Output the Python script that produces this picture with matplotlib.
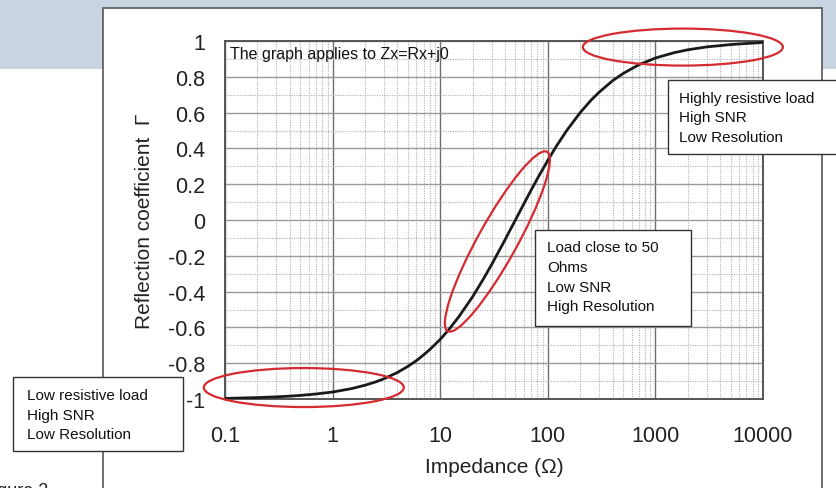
import matplotlib
matplotlib.use("Agg")
import matplotlib.pyplot as plt
from matplotlib.patches import Rectangle, Ellipse
from matplotlib.transforms import IdentityTransform
from matplotlib.ticker import LogLocator, FixedLocator, NullFormatter

# ---- data ----
impedance = [0.1, 0.15, 0.2, 0.3, 0.4, 0.5, 0.7, 1, 1.5, 2, 2.5, 3, 4, 5, 6, 7, 8,
             10, 12, 15, 20, 25, 30, 40, 50, 60, 70, 80, 100, 120, 150, 200, 250,
             300, 400, 500, 700, 1000, 1500, 2000, 3000, 5000, 7000, 10000]
gamma = [-0.997, -0.994, -0.992, -0.988, -0.984, -0.980, -0.972, -0.961, -0.942,
         -0.923, -0.905, -0.887, -0.852, -0.818, -0.786, -0.754, -0.724, -0.667,
         -0.613, -0.538, -0.429, -0.333, -0.250, -0.111, 0.0, 0.091, 0.167, 0.231,
         0.333, 0.412, 0.500, 0.600, 0.667, 0.714, 0.778, 0.818, 0.867, 0.905,
         0.935, 0.951, 0.967, 0.980, 0.986, 0.992]
x_ticks = [0.1, 1, 10, 100, 1000, 10000]
x_tick_labels = ["0.1", "1", "10", "100", "1000", "10000"]
y_ticks = [-1, -0.8, -0.6, -0.4, -0.2, 0, 0.2, 0.4, 0.6, 0.8, 1]
y_tick_labels = ["-1", "-0.8", "-0.6", "-0.4", "-0.2", "0", "0.2", "0.4", "0.6", "0.8", "1"]

note_top = "The graph applies to Zx=Rx+j0"
box_high = ["Highly resistive load", "High SNR", "Low Resolution"]
box_mid = ["Load close to 50", "Ohms", "Low SNR", "High Resolution"]
box_low = ["Low resistive load", "High SNR", "Low Resolution"]

W, H = 836, 489
plt.rcParams['font.family'] = ['Liberation Sans', 'DejaVu Sans']
fig = plt.figure(figsize=(W / 100, H / 100), dpi=100)
fig.patch.set_facecolor("white")

def fx(px):
    return px / W

def fy(py):
    return 1 - py / H

# background band and white panel
fig.add_artist(Rectangle((0, fy(70)), 1, 70 / H, transform=fig.transFigure,
                         facecolor="#c8d4e2", edgecolor="none", zorder=0))
fig.add_artist(Rectangle((fx(103), fy(495)), (822 - 103) / W, (495 - 9) / H,
                         transform=fig.transFigure, facecolor="white",
                         edgecolor="#555555", linewidth=1.2, zorder=0.5))

ax = fig.add_axes([fx(225), fy(400), (763 - 225) / W, (400 - 42) / H])
ax.set_zorder(1)
ax.plot(impedance, gamma, color="#1a1a1a", linewidth=2.0, zorder=5,
        solid_capstyle="round", solid_joinstyle="round")
ax.set_xscale("log")
ax.set_xlim(0.1, 10000)
ax.set_ylim(-1, 1)

ax.xaxis.set_major_locator(FixedLocator(x_ticks))
ax.set_xticklabels(x_tick_labels)
ax.xaxis.set_minor_locator(LogLocator(base=10, subs=range(2, 10)))
ax.xaxis.set_minor_formatter(NullFormatter())
ax.set_yticks(y_ticks)
ax.set_yticklabels(y_tick_labels)
ax.yaxis.set_minor_locator(FixedLocator([v / 10 for v in range(-9, 10, 2)]))

ax.tick_params(axis="both", which="both", length=0)
ax.tick_params(axis="x", which="major", labelsize=15.5, pad=19, colors="#222222")
ax.tick_params(axis="y", which="major", labelsize=15.5, pad=14, colors="#222222")

ax.grid(True, which="major", axis="x", color="#6e6e6e", linewidth=1.0)
ax.grid(True, which="major", axis="y", color="#9a9a9a", linewidth=1.0)
ax.grid(True, which="minor", axis="both", color="#b0b0b0", linewidth=0.8,
        linestyle=(0, (1, 1.2)))
ax.set_axisbelow(True)
for s in ax.spines.values():
    s.set_color("#555555")
    s.set_linewidth(1.4)

ax.set_xlabel("Impedance (\u03a9)", fontsize=15, color="#222222", labelpad=8)
ax.set_ylabel("Reflection coefficient  \u0393", fontsize=15, color="#222222", labelpad=10)

ax.text(0.010, 0.985, note_top, transform=ax.transAxes, fontsize=11.5,
        ha="left", va="top", color="#111111", zorder=6)

fig.canvas.draw()

# red ellipses (centres in data coordinates, sizes in pixels)
ellipses = [((1800, 0.966), 200, 37, 0), ((34, -0.12), 205, 39, 61),
            ((0.54, -0.936), 200, 39, 0)]
for (cx, cy), w, h, ang in ellipses:
    dx, dy = ax.transData.transform((cx, cy))
    fig.add_artist(Ellipse((dx, dy), w, h, angle=ang, transform=IdentityTransform(),
                           facecolor="none", edgecolor="#d42a30", linewidth=1.6,
                           zorder=10))

# annotation boxes (pixel positions)
def note(lines, x0, y0, x1, y1, tx, base, pitch):
    fig.add_artist(Rectangle((fx(x0), fy(y1)), (x1 - x0) / W, (y1 - y0) / H,
                             transform=fig.transFigure, facecolor="white",
                             edgecolor="#333333", linewidth=1.0, zorder=11))
    for i, line in enumerate(lines):
        fig.text(fx(tx), fy(base + i * pitch), line, fontsize=11, ha="left",
                 va="baseline", color="#111111", zorder=12)

note(box_high, 668, 81, 840, 155, 679, 103.5, 19)
note(box_mid, 535, 231, 691, 327, 547, 252.5, 19.5)
note(box_low, 13, 378, 183, 452, 27, 400.5, 19.5)

fig.text(fx(48), fy(496), "Figure 2", fontsize=13, ha="right", va="baseline",
         color="#222222")

fig.savefig("out.png", dpi=100)
